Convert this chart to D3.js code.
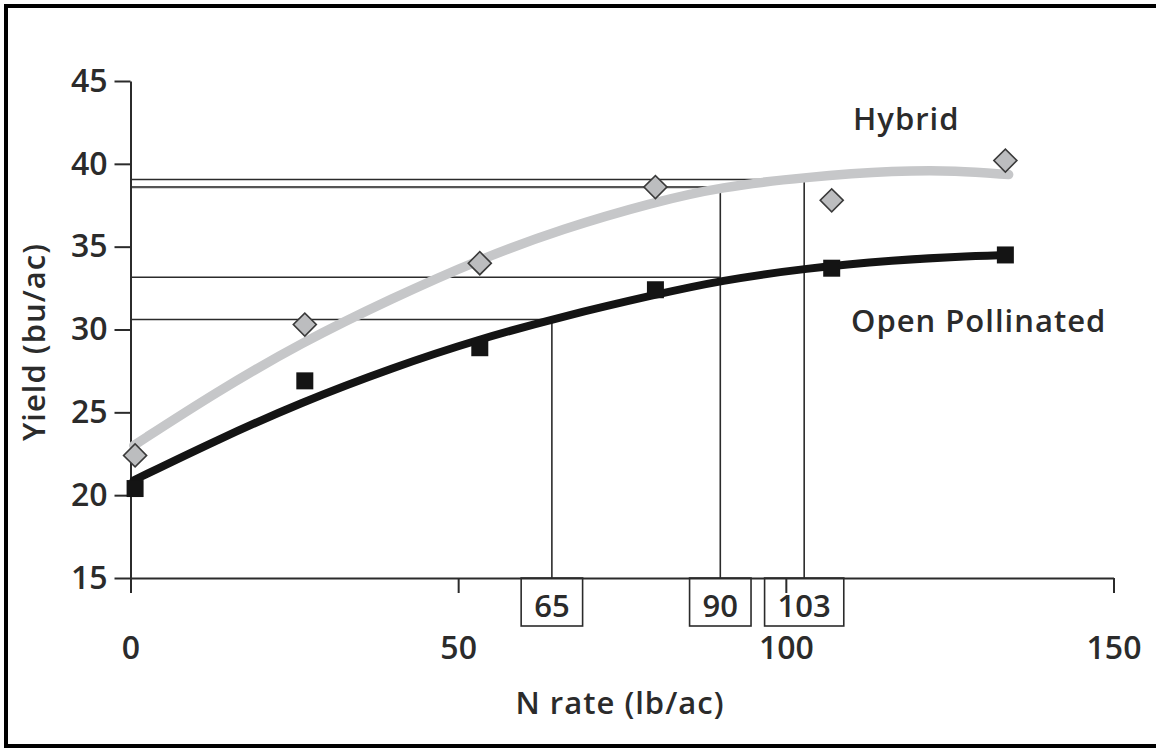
<!DOCTYPE html>
<html>
<head>
<meta charset="utf-8">
<script src="https://cdn.jsdelivr.net/npm/d3@7"></script>
<style>
  body { margin: 0; background: #fff; }
  svg { display: block; font-family: "Open Sans", sans-serif; }
  .axis path, .axis line { stroke: #2b2b2b; stroke-width: 2; fill: none; }
  .axis text { font-family: "Open Sans", sans-serif; font-size: 32px; font-weight: 600; fill: #2b2b2b; }
  .lbl { font-size: 31px; font-weight: 600; fill: #2b2b2b; letter-spacing: 1px; }
</style>
</head>
<body>
<script>
// observed yields
var nRate = [0.7, 26.6, 53.3, 80.1, 107, 133.5];
var hybrid = [22.4, 30.3, 34.0, 38.6, 37.8, 40.2];
var openPoll = [20.4, 26.9, 28.9, 32.4, 33.7, 34.5];

// fitted curves
var fitRate = [0.5, 13, 26, 40, 53, 66, 80, 90, 103, 117, 126, 134];
var hybridFit = [23.0, 26.2, 29.2, 31.9, 34.2, 36.1, 37.7, 38.6, 39.2, 39.6, 39.6, 39.35];
var openPollFit = [20.9, 23.3, 25.6, 27.7, 29.4, 30.8, 32.1, 32.95, 33.7, 34.2, 34.4, 34.5];

// optimum N rates and the yields the guide lines run to
var optRate = [64.3, 90, 102.8];
var optLabel = ["65", "90", "103"];
var guides = [
  {rate: 64.3, yield: 30.6},
  {rate: 90, yield: 33.15},
  {rate: 90, yield: 38.6},
  {rate: 102.8, yield: 39.05}
];

var xTicks = [0, 50, 100, 150];
var yTicks = [15, 20, 25, 30, 35, 40, 45];

var W = 1156, H = 748;
var svg = d3.select("body").append("svg").attr("width", W).attr("height", H);

// frame (top, left, bottom)
svg.append("path")
  .attr("d", "M" + W + ",6 H6 V746 H" + W)
  .attr("fill", "none").attr("stroke", "#000").attr("stroke-width", 4);

var x = d3.scaleLinear().domain([0, 150]).range([130.5, 1113.5]);
var y = d3.scaleLinear().domain([15, 45]).range([578, 81]);

// guide lines
svg.selectAll(".hguide").data(guides).enter().append("line")
  .attr("x1", x(0)).attr("x2", function(d) { return x(d.rate); })
  .attr("y1", function(d) { return y(d.yield); }).attr("y2", function(d) { return y(d.yield); })
  .attr("stroke", function(d, i) { return i == 2 ? "#555" : "#2b2b2b"; })
  .attr("stroke-width", function(d, i) { return i == 2 ? 2.2 : 1.6; });

svg.selectAll(".vguide").data(optRate).enter().append("line")
  .attr("x1", function(d) { return x(d); }).attr("x2", function(d) { return x(d); })
  .attr("y1", y(15))
  .attr("y2", function(d) { return y(d3.max(guides.filter(function(g) { return g.rate == d; }), function(g) { return g.yield; })); })
  .attr("stroke", "#2b2b2b").attr("stroke-width", 1.6);

// axes
svg.append("g").attr("class", "axis")
  .attr("transform", "translate(0," + y(15) + ")")
  .call(d3.axisBottom(x).tickValues(xTicks).tickSize(15).tickSizeOuter(0).tickPadding(43));

svg.append("g").attr("class", "axis")
  .attr("transform", "translate(" + x(0) + ",0)")
  .call(d3.axisLeft(y).tickValues(yTicks).tickSize(16).tickSizeOuter(0).tickPadding(7));

// boxes under the x axis
var boxes = svg.selectAll(".box").data(optRate).enter().append("g")
  .attr("transform", function(d) { return "translate(" + x(d) + "," + y(15) + ")"; });
var boxText = boxes.append("text")
  .attr("x", 0).attr("y", 39)
  .attr("text-anchor", "middle")
  .style("font-size", "31px").style("font-weight", 600).style("fill", "#2b2b2b")
  .text(function(d, i) { return optLabel[i]; });
boxes.insert("rect", "text")
  .each(function(d, i) {
    var bb = boxText.nodes()[i].getBBox();
    d3.select(this).attr("x", -bb.width / 2 - 13).attr("width", bb.width + 26);
  })
  .attr("y", 0).attr("height", 48)
  .attr("fill", "none").attr("stroke", "#2b2b2b").attr("stroke-width", 1.6);

// curves
var line = d3.line()
  .x(function(d) { return x(d[0]); })
  .y(function(d) { return y(d[1]); })
  .curve(d3.curveBasis);

svg.append("path")
  .attr("d", line(d3.zip(fitRate, hybridFit)))
  .attr("fill", "none").attr("stroke", "#c6c7c9").attr("stroke-width", 9.5).attr("stroke-linecap", "round");
svg.append("path")
  .attr("d", line(d3.zip(fitRate, openPollFit)))
  .attr("fill", "none").attr("stroke", "#141414").attr("stroke-width", 8).attr("stroke-linecap", "round");

// points
var diamond = d3.symbol().type(d3.symbolSquare).size(265);
svg.selectAll(".hyb").data(d3.zip(nRate, hybrid)).enter().append("path")
  .attr("d", diamond)
  .attr("transform", function(d) { return "translate(" + x(d[0]) + "," + y(d[1]) + ") rotate(45)"; })
  .attr("fill", "#bcbdbf").attr("stroke", "#3a3a3a").attr("stroke-width", 1.6);

var square = d3.symbol().type(d3.symbolSquare).size(289);
svg.selectAll(".op").data(d3.zip(nRate, openPoll)).enter().append("path")
  .attr("d", square)
  .attr("transform", function(d) { return "translate(" + x(d[0]) + "," + y(d[1]) + ")"; })
  .attr("fill", "#141414");

// labels
svg.append("text").attr("class", "lbl").attr("x", 853).attr("y", 130).text("Hybrid");
svg.append("text").attr("class", "lbl").attr("x", 851).attr("y", 332).text("Open Pollinated");

svg.append("text").attr("class", "lbl").attr("x", 620).attr("y", 714)
  .attr("text-anchor", "middle")
  .text("N rate (lb/ac)");
svg.append("text").attr("class", "lbl")
  .attr("transform", "translate(45,342) rotate(-90)")
  .attr("text-anchor", "middle")
  .text("Yield (bu/ac)");
</script>
</body>
</html>
